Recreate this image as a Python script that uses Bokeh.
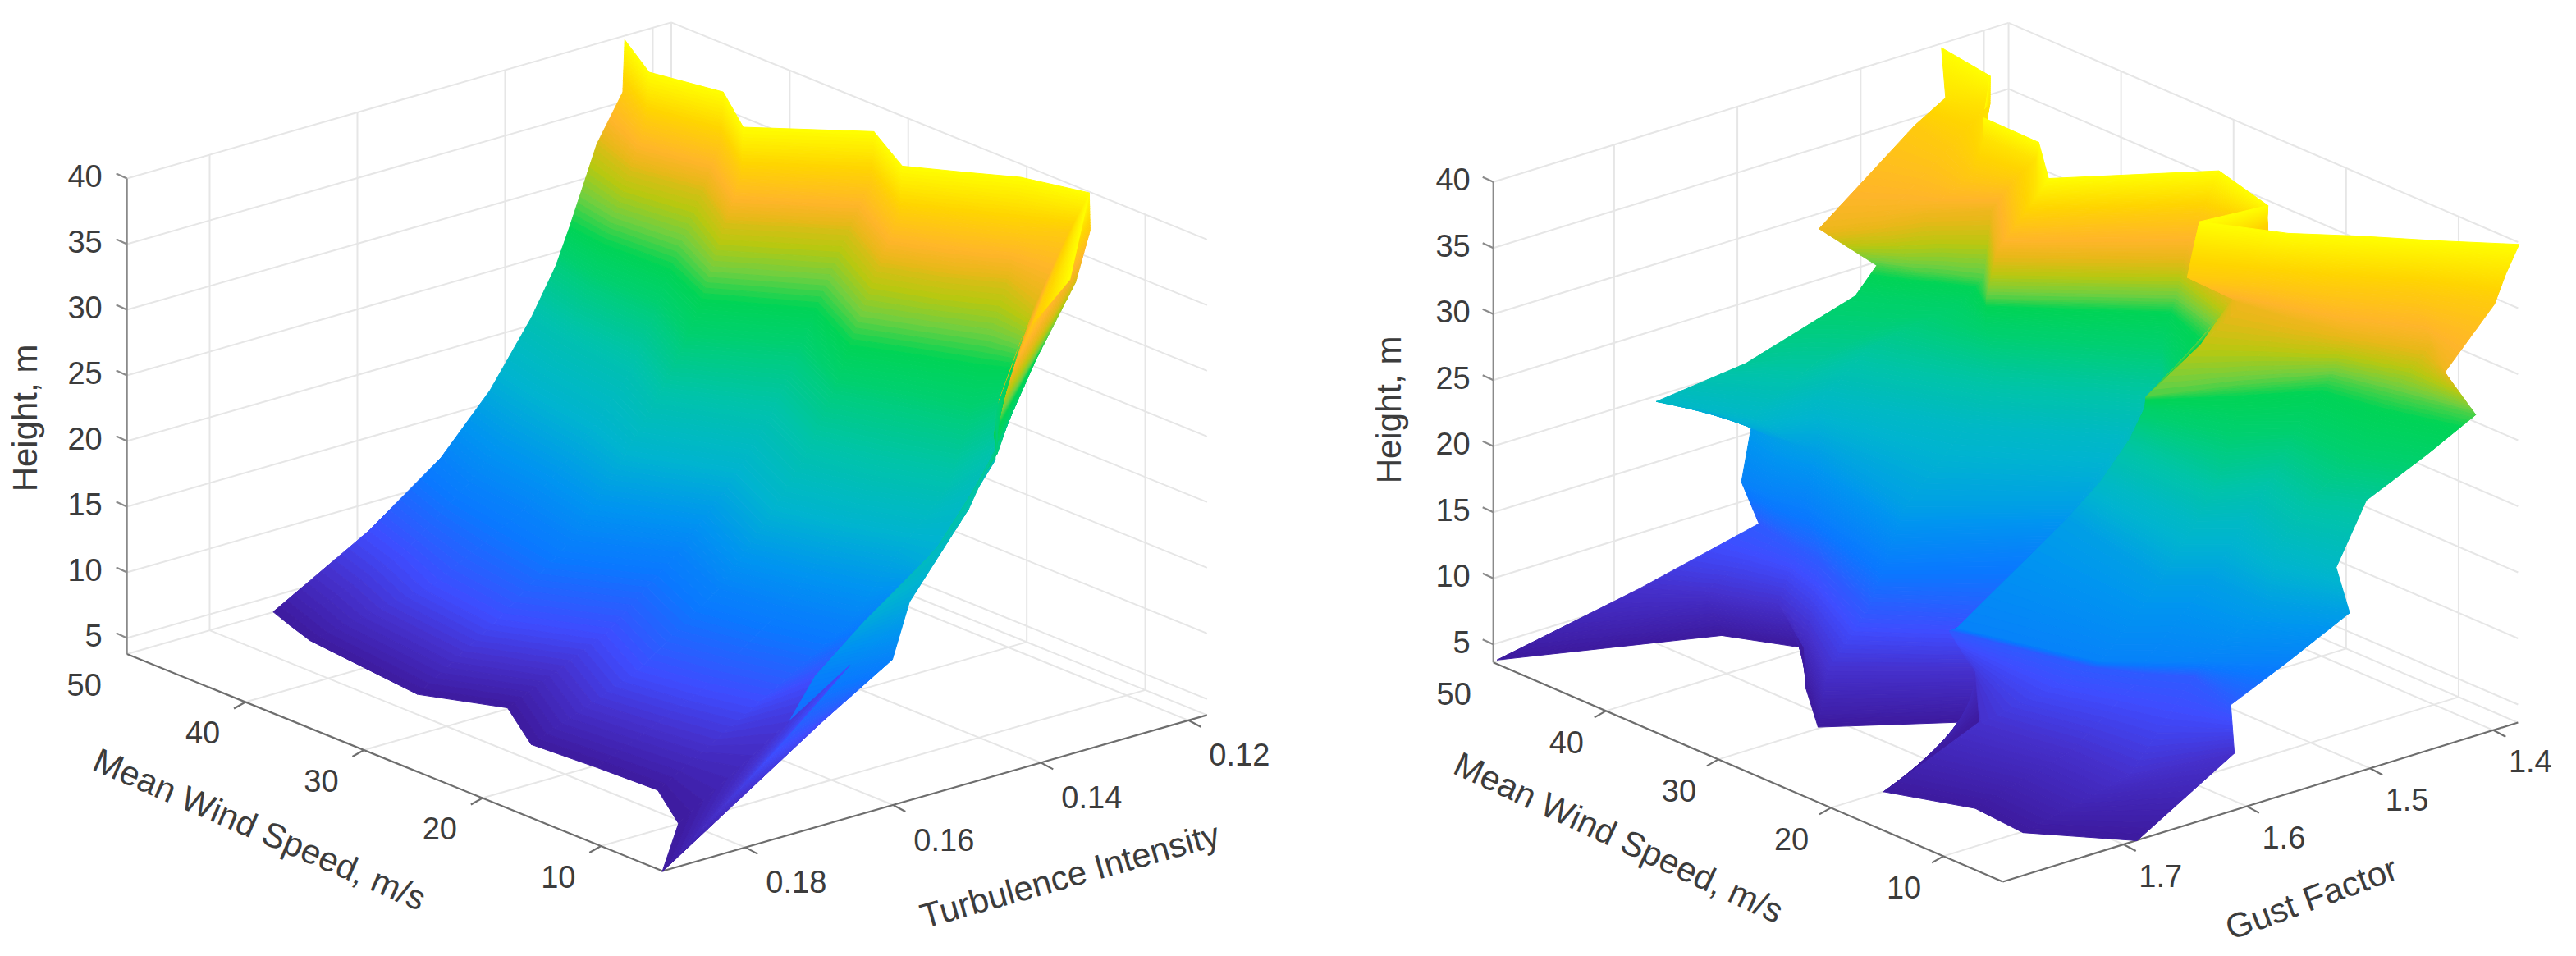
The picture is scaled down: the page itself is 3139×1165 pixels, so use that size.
from bokeh.plotting import figure
from bokeh.layouts import row
from bokeh.embed import file_html
from bokeh.resources import INLINE
from bokeh.core.properties import value
import numpy as np, math

# ---- left surface: height rows (m) by measurement columns
HEIGHT1 = [40, 36, 32, 28, 24, 20, 16, 12, 8, 3.8]
WIND1 = [
 [49.5,44.7,39.7,34.7,29.6,24.4,21.5,18.9,14.6,4.7,14.6],
 [49.6,45.2,40.2,35.3,30.1,24.8,21.7,18.9,16.9,6.8,16.4],
 [50.6,46.1,41.2,36.4,31.3,25.8,22.0,19.3,15.5,5.3,17.0],
 [47.9,44.5,39.2,34.4,29.3,23.6,20.2,16.7,15.2,7.6,15.4],
 [50.0,46.2,40.6,35.5,30.4,24.7,20.9,16.6,16.9,11.6,15.2],
 [50.9,47.2,40.8,36.2,30.0,24.3,19.6,15.6,17.3,8.4,12.3],
 [49.9,46.1,40.0,35.8,29.7,23.9,19.6,15.9,13.0,8.6,9.4],
 [49.8,45.8,40.6,35.2,30.0,24.1,19.6,15.4,15.9,10.1,9.4],
 [49.8,45.7,40.9,34.5,28.9,23.3,18.8,15.3,16.6,8.0,10.6],
 [50.0,47.8,45.2,34.9,30.1,24.8,19.7,14.8,10.0,4.7,4.7],
]
TI1 = [
 [.1246,.1290,.1270,.1323,.1228,.1273,.1236,.1201,.1177,.1362,.1177],
 [.1247,.1285,.1266,.1316,.1224,.1270,.1235,.1203,.1169,.1381,.1147],
 [.1266,.1292,.1274,.1320,.1235,.1282,.1250,.1214,.1238,.1448,.1157],
 [.1346,.1354,.1350,.1383,.1311,.1356,.1322,.1291,.1272,.1418,.1236],
 [.1331,.1346,.1349,.1392,.1319,.1362,.1334,.1309,.1267,.1350,.1277],
 [.1350,.1365,.1379,.1419,.1365,.1407,.1388,.1353,.1261,.1485,.1377],
 [.1422,.1438,.1458,.1477,.1425,.1468,.1443,.1415,.1419,.1578,.1504],
 [.1490,.1515,.1526,.1547,.1487,.1526,.1510,.1488,.1403,.1620,.1527],
 [.1588,.1610,.1644,.1658,.1603,.1649,.1633,.1612,.1469,.1719,.1604],
 [.1714,.1727,.1741,.1761,.1716,.1769,.1762,.1758,.1807,.1914,.1914],
]
# ---- right surface
HEIGHT2 = [40, 38, 36, 33, 29, 26, 22, 18, 15, 12, 9, 6, 3.8]
WIND2 = [
 [49.5,44.3,39.5,34.5,29.8,24.4,18.4,19.0,14.3,11.4,7.8,4.4],
 [46.5,44.1,40.3,35.7,31.1,25.3,20.1,19.3,15.2,12.1,8.3,4.5],
 [47.5,43.6,39.6,37.2,32.3,26.3,21.8,19.1,16.0,12.8,8.8,4.5],
 [43.4,42.0,41.3,39.2,34.0,26.8,20.2,18.6,15.3,11.3,6.7,2.9],
 [43.2,41.0,39.4,37.6,35.1,27.7,23.1,17.4,15.4,12.8,8.7,3.0],
 [45.1,43.3,41.7,40.2,36.9,28.9,24.4,20.9,15.9,13.5,8.2,4.8],
 [47.4,46.3,45.1,44.7,37.1,29.4,25.8,24.0,16.3,14.9,10.5,7.9],
 [52.5,49.8,47.3,46.3,37.9,30.7,27.5,26.3,17.7,15.9,11.7,7.3],
 [51.3,48.2,46.8,45.2,35.4,29.1,27.1,27.9,17.1,15.3,10.2,6.1],
 [49.2,46.7,45.7,44.7,34.9,29.8,27.6,23.6,14.2,12.6,10.4,7.3],
 [48.3,46.0,43.8,41.5,33.9,27.7,25.9,28.3,18.6,15.9,13.7,9.0],
 [49.7,46.9,42.7,38.3,32.8,26.7,25.7,27.3,20.8,14.2,9.1,7.8],
 [49.9,44.5,40.0,34.9,29.9,24.6,24.6,24.6,19.7,14.3,9.6,4.4],
]
GUST2 = [
 [1.439,1.447,1.496,1.497,1.532,1.443,1.458,1.508,1.479,1.449,1.416,1.382],
 [1.463,1.449,1.489,1.489,1.531,1.442,1.443,1.510,1.481,1.456,1.421,1.392],
 [1.479,1.486,1.504,1.493,1.533,1.441,1.427,1.517,1.487,1.463,1.427,1.401],
 [1.594,1.557,1.527,1.493,1.536,1.448,1.468,1.476,1.470,1.458,1.432,1.456],
 [1.549,1.537,1.525,1.514,1.534,1.449,1.462,1.566,1.512,1.458,1.447,1.430],
 [1.549,1.535,1.523,1.511,1.518,1.448,1.470,1.535,1.507,1.476,1.472,1.453],
 [1.617,1.594,1.579,1.542,1.509,1.444,1.477,1.519,1.517,1.483,1.491,1.474],
 [1.643,1.628,1.612,1.568,1.525,1.465,1.488,1.522,1.524,1.501,1.512,1.504],
 [1.576,1.583,1.582,1.578,1.597,1.516,1.524,1.534,1.556,1.533,1.533,1.504],
 [1.604,1.604,1.600,1.595,1.615,1.542,1.553,1.663,1.632,1.611,1.584,1.543],
 [1.598,1.603,1.607,1.611,1.641,1.579,1.588,1.626,1.599,1.581,1.561,1.574],
 [1.682,1.655,1.634,1.650,1.684,1.607,1.610,1.615,1.669,1.655,1.655,1.582],
 [1.796,1.663,1.638,1.682,1.718,1.636,1.636,1.636,1.758,1.733,1.737,1.692],
]
HEIGHT_TICKS = [5, 10, 15, 20, 25, 30, 35, 40]
WIND_TICKS = [10, 20, 30, 40]
WIND_LABELS = [10, 20, 30, 40, 50]
TI_TICKS = [0.18, 0.16, 0.14, 0.12]
GUST_TICKS = [1.7, 1.6, 1.5, 1.4]

STOPS = [(3.8,"#3d1a9e"),(6,"#4530cc"),(8,"#3f4cff"),(11,"#0a78ff"),(14,"#0095f0"),(17,"#00b4d0"),
         (21,"#00c4a8"),(25,"#00d070"),(28,"#00d455"),(29.5,"#70cf40"),(31,"#b8c810"),(32.5,"#e8b818"),
         (34,"#ffb52a"),(37,"#ffd500"),(40,"#ffff00")]
zs = [s[0] for s in STOPS]
rgb = np.array([[int(s[1][i:i+2],16) for i in (1,3,5)] for s in STOPS], float)
def col(z):
    return "#%02x%02x%02x" % tuple(int(round(np.interp(z, zs, rgb[:,k]))) for k in range(3))

class Box:
    """orthographic view of a 3-D box onto the page"""
    def __init__(s, F, wmin, dw, vmax, dv, zmin, dz):
        s.F, s.wmin, s.dw, s.vmax, s.dv, s.zmin, s.dz = F, wmin, dw, vmax, dv, zmin, dz
    def P(s, w, v, z):
        a = w - s.wmin; b = s.vmax - v
        return (s.F[0] + a*s.dw[0] + b*s.dv[0], s.F[1] + a*s.dw[1] + b*s.dv[1] + (z - s.zmin)*s.dz)

def mk(x0, x1):
    p = figure(width=x1-x0, height=1157, x_range=(x0,x1), y_range=(1157,0), output_backend="svg",
               toolbar_location=None, min_border=0, outline_line_color=None)
    p.axis.visible = False; p.grid.visible = False
    return p

def axes(p, B, wmax, vmin, vt, vfmt, wlab, vlab, vlabel, hpos, wpos, vpos, lz):
    P = B.P; zmax = 40
    segs = []
    for z in HEIGHT_TICKS:
        segs.append((P(wmax,B.vmax,z), P(wmax,vmin,z)))
        segs.append((P(wmax,vmin,z), P(B.wmin,vmin,z)))
    for v in vt:
        segs.append((P(wmax,v,B.zmin), P(wmax,v,zmax)))
        segs.append((P(B.wmin,v,B.zmin), P(wmax,v,B.zmin)))
    for w in WIND_TICKS:
        segs.append((P(w,vmin,B.zmin), P(w,vmin,zmax)))
        segs.append((P(w,B.vmax,B.zmin), P(w,vmin,B.zmin)))
    segs.append((P(wmax,vmin,B.zmin), P(wmax,vmin,zmax)))
    segs.append((P(wmax,B.vmax,B.zmin), P(wmax,vmin,B.zmin)))
    segs.append((P(wmax,vmin,B.zmin), P(B.wmin,vmin,B.zmin)))
    p.multi_line([[a[0],b[0]] for a,b in segs], [[a[1],b[1]] for a,b in segs], line_color="#e6e6e6", line_width=2)
    s = [(P(wmax,B.vmax,B.zmin), P(B.wmin,B.vmax,B.zmin)), (P(B.wmin,B.vmax,B.zmin), P(B.wmin,vmin,B.zmin))]
    for w in WIND_TICKS:
        a = P(w,B.vmax,B.zmin); s.append((a,(a[0]-14,a[1]+8)))
    for v in vt:
        a = P(B.wmin,v,B.zmin); s.append((a,(a[0]+15,a[1]+8)))
    p.multi_line([[a[0],b[0]] for a,b in s], [[a[1],b[1]] for a,b in s], line_color="#6e6e6e", line_width=2.2)
    q = [(P(wmax,B.vmax,B.zmin), P(wmax,B.vmax,zmax))]
    for z in HEIGHT_TICKS:
        a = P(wmax,B.vmax,z); q.append((a,(a[0]-13,a[1]-6)))
    p.multi_line([[a[0],b[0]] for a,b in q], [[a[1],b[1]] for a,b in q], line_color="#8a8a8a", line_width=2.2)
    f = value("Liberation Sans")
    def T(x, y, txt, size, ang=0, al="center"):
        p.text([x],[y],text=[txt],text_font=f,text_font_size=size,text_color="#3c3c3c",
               text_align=al,text_baseline="middle",angle=ang)
    for z in HEIGHT_TICKS:
        a = P(wmax,B.vmax,z); T(a[0]-lz, a[1]-3, str(z), "38px", 0, "right")
    for w in WIND_LABELS:
        a = P(w,B.vmax,B.zmin); T(a[0]+wlab[0], a[1]+wlab[1], str(w), "38px")
    for v,l in zip(vt,vfmt):
        a = P(B.wmin,v,B.zmin); T(a[0]+vlab[0], a[1]+vlab[1], l, "38px")
    T(hpos[0], hpos[1], "Height, m", "42px", math.pi/2)
    T(wpos[0], wpos[1], "Mean Wind Speed, m/s", "42px", wpos[2])
    T(vpos[0], vpos[1], vlabel, "42px", vpos[2])

def nodes(B, W, V, Z):
    return [[B.P(W[i][j], V[i][j], Z[i]) for i in range(len(Z))] for j in range(len(W[0]))]

def strips(p, C, Z, a, b, pairs=None, N=14):
    xs=[]; ys=[]; cs=[]
    for i in (pairs if pairs is not None else range(len(Z)-1)):
        for k in range(N):
            t0=k/N; t1=(k+1)/N
            def L(c,t): return (c[i][0]+(c[i+1][0]-c[i][0])*t, c[i][1]+(c[i+1][1]-c[i][1])*t)
            A,B_,C_,D = L(C[a],t0), L(C[b],t0), L(C[b],t1), L(C[a],t1)
            xs.append([A[0],B_[0],C_[0],D[0]]); ys.append([A[1],B_[1],C_[1],D[1]])
            cs.append(col(Z[i]+(Z[i+1]-Z[i])*(t0+t1)/2))
    p.patches(xs, ys, fill_color=cs, line_color=cs, line_width=1)

B1 = Box((807,1061), 4.79, (-14.44,-5.85), 0.1912, (9000,-2580), 3.78, -16.0)
p1 = mk(0, 1560)
axes(p1, B1, 50, 0.1175, TI_TICKS, ["%.2f"%v for v in TI_TICKS], (-52,37), (62,42),
     "Turbulence Intensity", (30,509), (316,1010,-0.408), (1303,1066,0.274), 30)
C1 = nodes(B1, WIND1, TI1, HEIGHT1)
for j in range(8): strips(p1, C1, HEIGHT1, j, j+1)
strips(p1, C1, HEIGHT1, 9, 10)
strips(p1, C1, HEIGHT1, 8, 9, [0,1,2,3,8])

B2 = Box((2440,1074), 4.72, (-13.71,-5.90), 1.798, (1502,-464), 3.63, -16.1)
p2 = mk(1560, 3123)
axes(p2, B2, 50, 1.38, GUST_TICKS, ["%.1f"%v for v in GUST_TICKS], (-48,38), (45,38),
     "Gust Factor", (1692,499), (1972,1020,-0.436), (2816,1094,0.353), 28)
C2 = nodes(B2, WIND2, GUST2, HEIGHT2)
for j in range(len(C2)-1): strips(p2, C2, HEIGHT2, j, j+1)

open("out.html","w").write(file_html(row(p1,p2),INLINE))
